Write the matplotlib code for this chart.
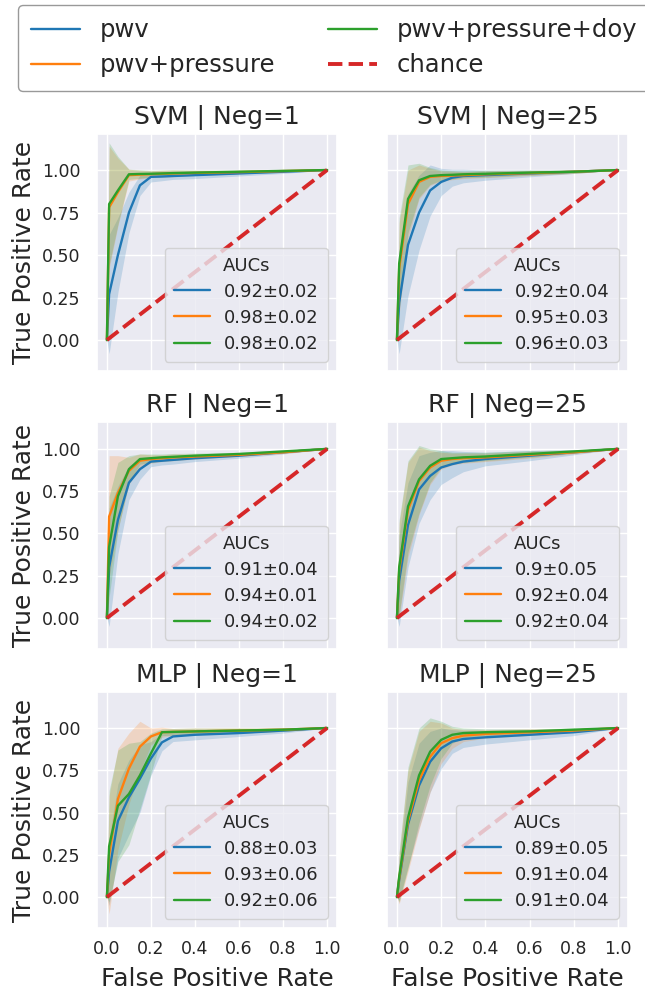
import matplotlib
matplotlib.use("Agg")
import matplotlib.pyplot as plt
import numpy as np
import seaborn as sns

sns.set_theme(style="darkgrid")

FPR = [0, 0.01, 0.05, 0.1, 0.15, 0.2, 0.25, 0.3, 0.4, 0.6, 0.8, 1.0]
FEATURES = ["pwv", "pwv+pressure", "pwv+pressure+doy"]
COLORS = ["#1f77b4", "#ff7f0e", "#2ca02c"]

# mean TPR / std over folds, one row per feature set
svm_neg1_tpr = [
    [0, 0.27, 0.50, 0.75, 0.91, 0.96, 0.962, 0.965, 0.97, 0.98, 0.99, 1.0],
    [0, 0.78, 0.87, 0.97, 0.973, 0.976, 0.978, 0.98, 0.983, 0.988, 0.994, 1.0],
    [0, 0.80, 0.88, 0.975, 0.977, 0.978, 0.98, 0.982, 0.985, 0.99, 0.995, 1.0],
]
svm_neg1_std = [
    [0, 0.35, 0.22, 0.12, 0.06, 0.03, 0.025, 0.02, 0.02, 0.015, 0.01, 0],
    [0, 0.36, 0.2, 0.035, 0.025, 0.02, 0.02, 0.02, 0.015, 0.01, 0.005, 0],
    [0, 0.36, 0.2, 0.03, 0.025, 0.02, 0.02, 0.02, 0.015, 0.01, 0.005, 0],
]
svm_neg25_tpr = [
    [0, 0.22, 0.56, 0.75, 0.88, 0.93, 0.955, 0.965, 0.97, 0.98, 0.99, 1.0],
    [0, 0.42, 0.80, 0.93, 0.96, 0.965, 0.968, 0.97, 0.975, 0.982, 0.99, 1.0],
    [0, 0.45, 0.83, 0.94, 0.965, 0.97, 0.972, 0.975, 0.978, 0.985, 0.99, 1.0],
]
svm_neg25_std = [
    [0, 0.3, 0.3, 0.22, 0.15, 0.08, 0.05, 0.04, 0.03, 0.02, 0.01, 0],
    [0, 0.27, 0.2, 0.1, 0.05, 0.03, 0.025, 0.02, 0.02, 0.015, 0.01, 0],
    [0, 0.27, 0.2, 0.1, 0.05, 0.03, 0.025, 0.02, 0.02, 0.015, 0.01, 0],
]
rf_neg1_tpr = [
    [0, 0.3, 0.58, 0.8, 0.88, 0.925, 0.93, 0.935, 0.945, 0.96, 0.98, 1.0],
    [0, 0.6, 0.74, 0.87, 0.93, 0.94, 0.945, 0.95, 0.955, 0.965, 0.98, 1.0],
    [0, 0.42, 0.72, 0.88, 0.94, 0.945, 0.95, 0.953, 0.96, 0.97, 0.985, 1.0],
]
rf_neg1_std = [
    [0, 0.35, 0.2, 0.1, 0.06, 0.03, 0.025, 0.025, 0.02, 0.015, 0.01, 0],
    [0, 0.36, 0.22, 0.08, 0.04, 0.025, 0.02, 0.02, 0.015, 0.01, 0.008, 0],
    [0, 0.3, 0.2, 0.08, 0.03, 0.025, 0.02, 0.02, 0.015, 0.01, 0.008, 0],
]
rf_neg25_tpr = [
    [0, 0.22, 0.55, 0.76, 0.84, 0.89, 0.91, 0.925, 0.94, 0.96, 0.98, 1.0],
    [0, 0.28, 0.64, 0.81, 0.89, 0.93, 0.94, 0.945, 0.95, 0.965, 0.98, 1.0],
    [0, 0.3, 0.66, 0.82, 0.9, 0.94, 0.945, 0.95, 0.955, 0.97, 0.985, 1.0],
]
rf_neg25_std = [
    [0, 0.27, 0.25, 0.2, 0.14, 0.1, 0.08, 0.06, 0.04, 0.03, 0.015, 0],
    [0, 0.28, 0.28, 0.2, 0.1, 0.05, 0.035, 0.03, 0.025, 0.02, 0.01, 0],
    [0, 0.28, 0.27, 0.2, 0.1, 0.05, 0.035, 0.03, 0.025, 0.02, 0.01, 0],
]
mlp_neg1_tpr = [
    [0, 0.15, 0.45, 0.59, 0.70, 0.82, 0.915, 0.95, 0.96, 0.97, 0.985, 1.0],
    [0, 0.25, 0.58, 0.76, 0.89, 0.95, 0.975, 0.977, 0.98, 0.985, 0.99, 1.0],
    [0, 0.3, 0.54, 0.61, 0.72, 0.85, 0.975, 0.977, 0.98, 0.985, 0.99, 1.0],
]
mlp_neg1_std = [
    [0, 0.2, 0.22, 0.22, 0.2, 0.1, 0.05, 0.03, 0.03, 0.02, 0.015, 0],
    [0, 0.35, 0.3, 0.21, 0.15, 0.05, 0.03, 0.02, 0.02, 0.015, 0.01, 0],
    [0, 0.33, 0.33, 0.3, 0.2, 0.12, 0.02, 0.02, 0.02, 0.015, 0.01, 0],
]
mlp_neg25_tpr = [
    [0, 0.1, 0.43, 0.66, 0.8, 0.88, 0.92, 0.935, 0.945, 0.96, 0.975, 1.0],
    [0, 0.11, 0.45, 0.69, 0.83, 0.91, 0.94, 0.955, 0.965, 0.975, 0.985, 1.0],
    [0, 0.12, 0.47, 0.72, 0.86, 0.93, 0.96, 0.97, 0.975, 0.98, 0.99, 1.0],
]
mlp_neg25_std = [
    [0, 0.12, 0.25, 0.25, 0.18, 0.12, 0.07, 0.05, 0.04, 0.03, 0.02, 0],
    [0, 0.15, 0.3, 0.29, 0.21, 0.12, 0.06, 0.035, 0.025, 0.02, 0.01, 0],
    [0, 0.15, 0.3, 0.28, 0.2, 0.11, 0.05, 0.03, 0.02, 0.015, 0.01, 0],
]

# AUC mean and std per panel
svm_neg1_auc = ([0.92, 0.98, 0.98], [0.02, 0.02, 0.02])
svm_neg25_auc = ([0.92, 0.95, 0.96], [0.04, 0.03, 0.03])
rf_neg1_auc = ([0.91, 0.94, 0.94], [0.04, 0.01, 0.02])
rf_neg25_auc = ([0.9, 0.92, 0.92], [0.05, 0.04, 0.04])
mlp_neg1_auc = ([0.88, 0.93, 0.92], [0.03, 0.06, 0.06])
mlp_neg25_auc = ([0.89, 0.91, 0.91], [0.05, 0.04, 0.04])

panels = [
    ("SVM | Neg=1", svm_neg1_tpr, svm_neg1_std, svm_neg1_auc),
    ("SVM | Neg=25", svm_neg25_tpr, svm_neg25_std, svm_neg25_auc),
    ("RF | Neg=1", rf_neg1_tpr, rf_neg1_std, rf_neg1_auc),
    ("RF | Neg=25", rf_neg25_tpr, rf_neg25_std, rf_neg25_auc),
    ("MLP | Neg=1", mlp_neg1_tpr, mlp_neg1_std, mlp_neg1_auc),
    ("MLP | Neg=25", mlp_neg25_tpr, mlp_neg25_std, mlp_neg25_auc),
]

W, H = 645, 992
fig = plt.figure(figsize=(W / 100, H / 100), dpi=100)

col_px = [(97, 240), (387, 241)]
row_px = [(134, 371), (422, 649), (692, 928)]
row_ylim = [(-0.182, 1.212), (-0.183, 1.159), (-0.183, 1.213)]

handles = None
for i, (title, tpr, std, auc) in enumerate(panels):
    r, c = divmod(i, 2)
    x0, w = col_px[c]
    top, bottom = row_px[r]
    ax = fig.add_axes([x0 / W, 1 - bottom / H, w / W, (bottom - top) / H])

    lines = []
    for k in range(3):
        m = np.array(tpr[k])
        s = np.array(std[k])
        label = f"{auc[0][k]}\u00b1{auc[1][k]}"
        ln, = ax.plot(FPR, m, color=COLORS[k], lw=1.7, label=label)
        ax.fill_between(FPR, m - s, m + s, color=COLORS[k], alpha=0.2, lw=0)
        lines.append(ln)
    chance, = ax.plot([0, 1], [0, 1], "--", color="#d62728", lw=2.8, zorder=3)

    ax.set_xlim(-0.045, 1.045)
    ax.set_ylim(*row_ylim[r])
    ax.set_xticks([0, 0.2, 0.4, 0.6, 0.8, 1.0])
    ax.set_yticks([0, 0.25, 0.5, 0.75, 1.0])
    ax.tick_params(axis="x", length=0, pad=9, labelsize=12.5)
    ax.tick_params(axis="y", length=0, pad=12, labelsize=12.5)
    ax.set_title(title, fontsize=18, pad=7)

    if c == 0:
        ax.set_ylabel("True Positive Rate", fontsize=18)
    else:
        ax.set_yticklabels([])
    if r == 2:
        ax.set_xlabel("False Positive Rate", fontsize=18, labelpad=6)
    else:
        ax.set_xticklabels([])

    leg = ax.legend(handles=lines, title="AUCs", loc="lower right",
                    fontsize=13, title_fontsize=13, labelspacing=0.45,
                    borderpad=0.5, framealpha=0.8)
    leg.set_zorder(5)

    if handles is None:
        handles = lines + [chance]

fig.legend(handles, FEATURES + ["chance"], loc="upper left",
           bbox_to_anchor=(18 / W, 1 - 5 / H), borderaxespad=0, ncol=2,
           fontsize=17.5, labelspacing=0.45, borderpad=0.55,
           columnspacing=2.2, handletextpad=0.8,
           facecolor="white", edgecolor="0.6", framealpha=1)

fig.savefig("out.png", dpi=100)
